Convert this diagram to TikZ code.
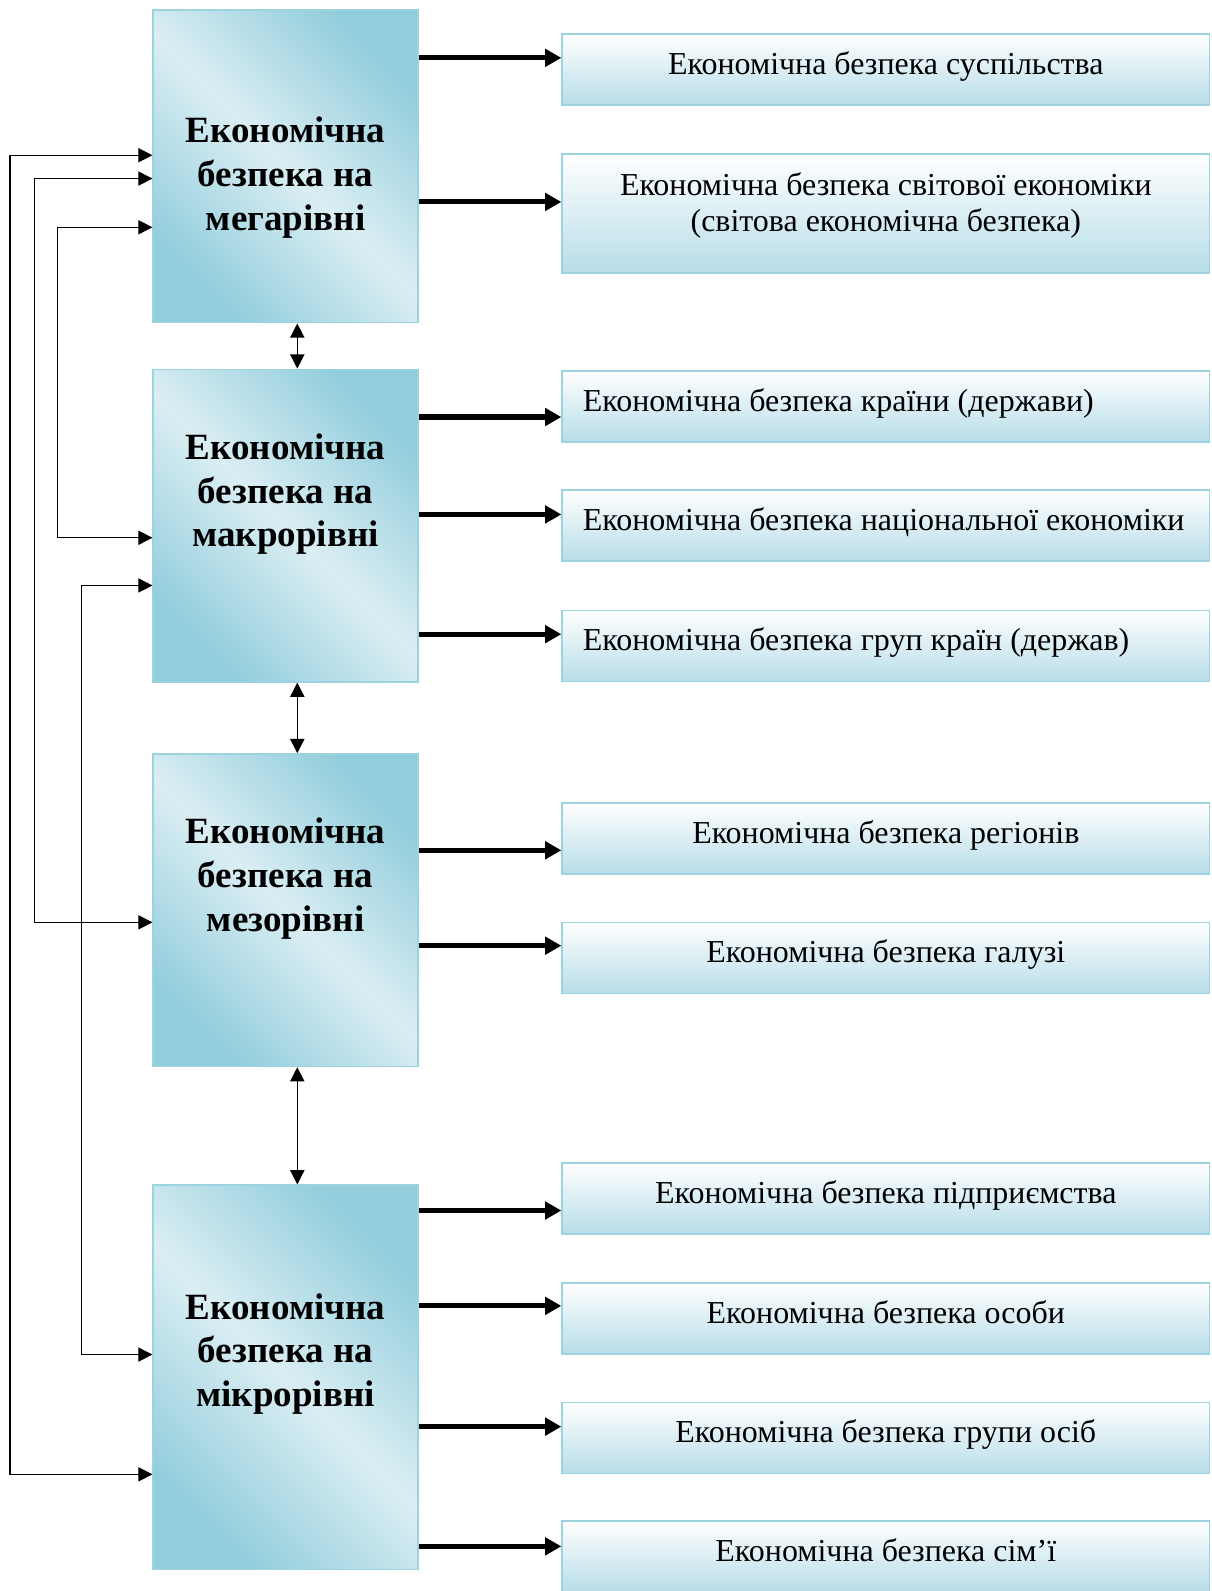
\documentclass[tikz,border=0pt]{standalone}
\usepackage{fontspec}
\setmainfont{Liberation Serif}
\usetikzlibrary{arrows.meta}

\definecolor{aquadark}{HTML}{92CDDC}
\definecolor{aqualight}{HTML}{DAEEF3}
\definecolor{aquamid}{HTML}{B7DDE8}
\definecolor{aquaedge}{HTML}{9DD2E0}

\begin{document}
\begin{tikzpicture}[
    x=1pt, y=-1pt,
    lvlbox/.style = {draw=aquaedge, line width=1.5pt, minimum width=261pt, minimum height=308pt,
        top color=aquadark, bottom color=aquadark, middle color=aqualight, shading angle=-45},
    levtext/.style = {align=center, font=\bfseries\fontsize{36.5}{43}\selectfont},
    itembox/.style = {draw=aquaedge, line width=1.5pt, minimum width=638pt, minimum height=70pt,
        top color=white, bottom color=aquamid, align=center, text depth=13pt,
        font=\fontsize{31.5}{35}\selectfont},
    itemleft/.style = {itembox, text width=597pt, align=flush left},
    bigarr/.style = {line width=5pt, -{Triangle[length=16pt, width=17pt]}},
    link/.style = {line width=1.3pt, {Triangle[length=14pt, width=14pt]}-{Triangle[length=14pt, width=14pt]}}
]
\useasboundingbox (0,0) rectangle (1194,1568);

% levels
\node[lvlbox] (mega) at (281.5,164) {};
\node[lvlbox] (macro) at (281.5,518) {};
\node[lvlbox] (meso) at (281.5,897) {};
\node[lvlbox, minimum height=379pt] (micro) at (281.5,1357.5) {};

\node[levtext] (megat) at ([yshift=-11pt]mega.center) {Економічна\\безпека на\\мегарівні};
\node[levtext] (macrot) at ([yshift=31pt]macro.center) {Економічна\\безпека на\\макрорівні};
\node[levtext] (mesot) at ([yshift=31pt]meso.center) {Економічна\\безпека на\\мезорівні};
\node[levtext] (microt) at ([yshift=23pt]micro.center) {Економічна\\безпека на\\мікрорівні};

% objects
\node[itembox] (susp) at (873,68.5) {Економічна безпека суспільства};
\node[itembox, minimum height=117pt, text depth=23pt] (svit) at (873,210.5) {Економічна безпека світової економіки\\(світова економічна безпека)};
\node[itemleft] (krain) at (873,400.5) {Економічна безпека країни (держави)};
\node[itemleft] (nats) at (873,518) {Економічна безпека національної економіки};
\node[itemleft] (grup) at (873,636.5) {Економічна безпека груп країн (держав)};
\node[itembox] (reg) at (873,826.5) {Економічна безпека регіонів};
\node[itembox] (gal) at (873,944) {Економічна безпека галузі};
\node[itembox] (pidp) at (873,1181) {Економічна безпека підприємства};
\node[itembox] (osob) at (873,1299.5) {Економічна безпека особи};
\node[itembox] (grosib) at (873,1417) {Економічна безпека групи осіб};
\node[itembox] (simi) at (873,1534) {Економічна безпека сім’ї};

% level -> object
\draw[bigarr] (mega.east |- 0,57) -- (susp.west |- 0,57);
\draw[bigarr] (mega.east |- 0,199) -- (svit.west |- 0,199);
\draw[bigarr] (macro.east |- 0,411) -- (krain.west |- 0,411);
\draw[bigarr] (macro.east |- 0,507) -- (nats.west |- 0,507);
\draw[bigarr] (macro.east |- 0,625) -- (grup.west |- 0,625);
\draw[bigarr] (meso.east |- 0,838) -- (reg.west |- 0,838);
\draw[bigarr] (meso.east |- 0,932) -- (gal.west |- 0,932);
\draw[bigarr] (micro.east |- 0,1193) -- (pidp.west |- 0,1193);
\draw[bigarr] (micro.east |- 0,1287) -- (osob.west |- 0,1287);
\draw[bigarr] (micro.east |- 0,1406) -- (grosib.west |- 0,1406);
\draw[bigarr] (micro.east |- 0,1524) -- (simi.west |- 0,1524);

% between levels
\draw[link] ([xshift=11.5pt]mega.south) -- ([xshift=11.5pt]macro.north);
\draw[link] ([xshift=11.5pt]macro.south) -- ([xshift=11.5pt]meso.north);
\draw[link] ([xshift=11.5pt]meso.south) -- ([xshift=11.5pt]micro.north);

% feedback lines on the left
\draw[link] (mega.west |- 0,153) -| (10,1453) -- (micro.west |- 0,1453);
\draw[link] (mega.west |- 0,176) -| (34,909) -- (meso.west |- 0,909);
\draw[link] (mega.west |- 0,224) -| (57,530) -- (macro.west |- 0,530);
\draw[link] (macro.west |- 0,577) -| (80,1335) -- (micro.west |- 0,1335);

\end{tikzpicture}
\end{document}
